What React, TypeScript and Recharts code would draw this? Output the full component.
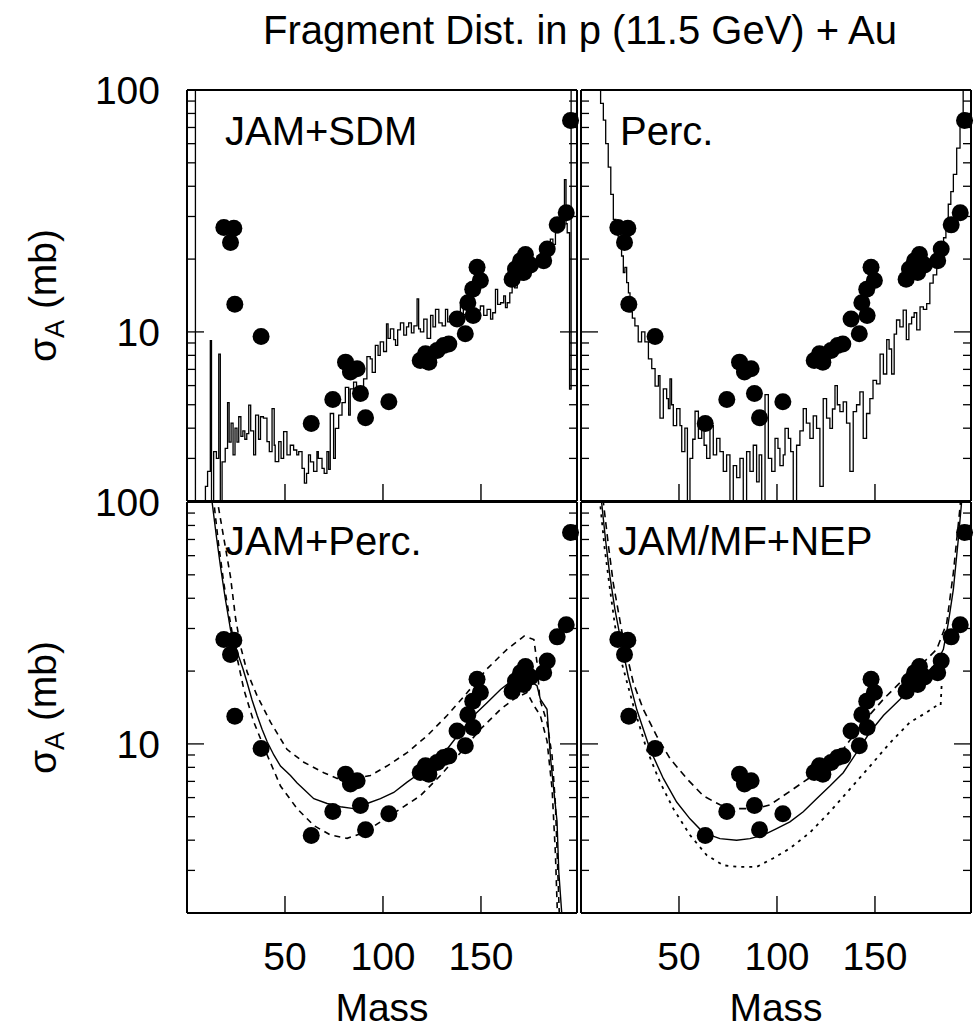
import React from 'react';
import { ComposedChart, Line, Scatter, XAxis, YAxis, Label } from 'recharts';

const FONT = '"Liberation Sans", Arial, Helvetica, sans-serif';

// measured fragment cross sections (same points in all four panels)
const expMass = [
  18.8, 23.9, 22.2, 24.4, 37.8, 63.4, 74.4, 80.9, 83.4, 86.8, 88.5, 91.1, 103,
  119, 123.4, 121.7, 127.6, 131, 133.6, 137.8, 142, 143.3, 145.8, 146, 149.7, 148,
  165.9, 167.6, 170.2, 172.7, 171.8, 175.3, 182, 183.8, 188.9, 193.5, 195.7,
];
const expSigma = [
  27.0, 26.8, 23.4, 13.0, 9.57, 4.18, 5.26, 7.5, 6.83, 7.05, 5.56, 4.42, 5.14,
  7.62, 7.5, 8.12, 8.38, 8.79, 8.92, 11.3, 9.82, 13.2, 15.0, 11.7, 16.3, 18.5,
  16.5, 18.2, 19.7, 20.9, 17.6, 18.9, 19.7, 22.0, 27.7, 31.1, 74.8,
];

const massTicks = [50, 100, 150];
const sigmaTicks = [2, 3, 4, 5, 6, 7, 8, 9, 10, 20, 30, 40, 50, 60, 70, 80, 90, 100];
const sigmaLabels = [10, 100];

// JAM+SDM histogram [mass, sigma]
const sdmHist: [number, number][] = [
  [2, 500], [4.3, 1], [9.4, 2.3], [10.5, 2.65], [11.9, 9.2], [12.5, 1], [13.6, 3.2], [15, 3.0],
  [16.2, 8.1], [17, 1], [17.9, 2.9], [19.5, 3.3], [20.7, 5.1], [21.5, 3.5], [22.5, 4.2], [23.5, 3.1],
  [24.5, 4.0], [25.5, 3.5], [26.4, 4.46], [27.5, 3.7], [28.5, 3.9], [29.5, 3.6], [30.5, 3.8],
  [31.5, 4.98], [32.5, 3.9], [34, 3.1], [35, 4.53], [36.5, 3.6], [37.5, 4.46], [39, 4.4],
  [40.8, 3.52], [42, 3.2], [43.4, 4.82], [44.5, 3.4], [45, 2.91], [46.8, 3.52], [48, 3.0],
  [49.3, 3.87], [51, 3.1], [52.7, 3.4], [54.4, 3.25], [56, 3.1], [57, 3.2], [58.7, 2.73],
  [59.9, 2.37], [61, 2.6], [62, 3.1], [63, 2.9], [64.6, 2.65], [66.3, 3.2], [67, 3.0], [68.9, 2.73],
  [70, 2.6], [71.4, 3.2], [72.3, 2.7], [73.1, 4.6], [74.8, 3.0], [75.7, 3.99], [77.4, 4.53],
  [79.1, 5.1], [80.8, 5.9], [82.5, 4.53], [83.3, 5.82], [85, 6.2], [86.5, 5.6], [88.4, 5.82],
  [90.1, 6.4], [91.8, 7.9], [93.5, 7.74], [94.5, 6.8], [96.1, 8.8], [97.5, 8.0], [98.6, 9.1],
  [100.3, 8.3], [101.8, 10.8], [102.6, 9.4], [103.8, 10.3], [105.5, 9.3], [106.4, 8.8],
  [107.5, 10.2], [108.9, 10.9], [110.6, 9.7], [112, 10.5], [113.1, 10.9], [114.5, 9.9],
  [115.8, 10.6], [117.4, 13.7], [118.2, 10.3], [119.1, 10.0], [120.8, 11.3], [122.5, 9.4],
  [124.3, 11.7], [125.5, 10.5], [126.8, 12.4], [128.5, 10.9], [130.2, 10.6], [131.9, 12.4],
  [133, 11.0], [134.4, 11.3], [135.5, 12.0], [137, 11.7], [138.3, 10.9], [139.5, 12.8],
  [141, 11.8], [142.9, 12.4], [144.5, 11.2], [146.3, 11.7], [148, 12.3], [149.7, 12.8],
  [151.4, 11.7], [153.1, 12.4], [154.9, 11.3], [156, 12.0], [157.4, 15.0], [158.5, 13.0],
  [160, 13.2], [161.6, 14.1], [162.5, 12.6], [163.4, 13.2], [164.7, 14.5], [165.9, 16.0],
  [167.2, 15.2], [168.5, 17.1], [170.2, 16.4], [171.9, 17.9], [173.5, 17.5], [175.3, 19.3],
  [177, 18.6], [178.7, 20.6], [180.4, 20.0], [182.1, 22.0], [183.8, 21.5], [185.4, 24.2],
  [186.7, 23.0], [188, 25.7], [189.7, 26.5], [190.6, 29.2], [191.6, 27], [192.6, 42.6],
  [193.4, 28], [194, 25.7], [195.2, 5.8], [196, 300], [198, 300],
];

// Percolation histogram [mass, sigma]
const percHist: [number, number][] = [
  [7, 300], [8.8, 105], [10, 88], [11.4, 75], [12.6, 60], [13.9, 48], [15.2, 37], [16.5, 29.2],
  [17.8, 26], [19, 23.4], [20.7, 20.6], [21.6, 17.6], [22.4, 18.5], [23.3, 16], [24.2, 14.5],
  [25, 12.1], [26.2, 11.4], [27.5, 10.6], [29.2, 9.1], [30.9, 10.0], [32.6, 9.1], [34.4, 7.74],
  [36.1, 7.05], [37.8, 5.97], [39.5, 6.6], [40.3, 4.4], [42, 5.82], [43.7, 5.3], [44.6, 4.82],
  [45.4, 6.4], [46.2, 5.0], [47.1, 4.1], [48.8, 4.82], [50.5, 4.1], [51.4, 3.2], [53, 4.0],
  [54.3, 1], [55.6, 3.0], [57, 3.6], [58.2, 4.7], [59.9, 3.63], [61.6, 4.1], [62.8, 3.4],
  [64.1, 3.0], [65.8, 4.1], [67.5, 3.1], [69.2, 3.63], [70.9, 3.2], [72.6, 2.65], [74.3, 3.1],
  [76, 1], [77.7, 2.8], [79.4, 2.5], [81.1, 3.0], [82.8, 1], [84.5, 3.2], [86.2, 2.65],
  [87.9, 3.4], [89.6, 2.4], [90.9, 3.1], [92.2, 1], [93.9, 5.5], [95.6, 3.0], [97.3, 2.65],
  [99, 3.63], [100.5, 3.3], [101.5, 2.8], [103.2, 3.1], [104.1, 3.99], [105.8, 3.63], [107, 3.2],
  [108.3, 1], [110, 3.4], [111.7, 3.9], [113.4, 4.82], [115, 4.2], [116.8, 3.63], [118.5, 4.5],
  [120.2, 3.99], [121.9, 2.3], [123.6, 5.3], [125.3, 4.4], [127, 3.99], [128.3, 4.8], [129.6, 6.0],
  [130.8, 5.0], [132.1, 4.68], [133.8, 5.14], [135.5, 4.2], [137.2, 2.65], [138.9, 4.68],
  [140.6, 5.0], [142.3, 5.65], [144, 3.63], [145.7, 4.6], [147.4, 5.3], [149, 6.3], [150.8, 6.1],
  [152.6, 8.1], [154.3, 6.7], [156, 9.3], [157.2, 8.5], [158.5, 6.7], [159.8, 9.8], [161, 11.2],
  [162.7, 10.5], [164.4, 12.3], [166, 9.3], [167.3, 10.8], [168.7, 11.5], [170, 12.0],
  [171.3, 10.2], [173, 12.7], [174.7, 12.4], [176.4, 13.1], [178, 15.9], [179.7, 17.2],
  [181.5, 19.2], [183.2, 21.5], [185, 24.5], [186.2, 28], [187.4, 33.7], [188.7, 38], [190, 44.8],
  [191.7, 57.5], [193.4, 74], [195, 120], [198, 120],
];

// JAM+Perc. : central, upper and lower curves
const jpSolid: [number, number][] = [
  [11.5, 130], [12.8, 100], [15, 72], [17.1, 54], [19.5, 40], [22.2, 29.7], [24.3, 26], [26.4, 23],
  [28.5, 20.5], [30.7, 17.9], [33.2, 15.2], [35.8, 13.1], [38.3, 11.5], [40.9, 10.2], [44.3, 9.0],
  [47.7, 8.1], [52.8, 7.4], [56.2, 6.9], [59.6, 6.5], [64.7, 5.94], [71.5, 5.67], [78.3, 5.5],
  [85.1, 5.4], [91.9, 5.67], [98.7, 5.94], [105.5, 6.3], [112.3, 6.95], [119.1, 7.6], [125.9, 8.5],
  [132.7, 9.5], [139.5, 11.2], [146.3, 13.1], [153.1, 14.8], [160, 16.8], [166.7, 18.5],
  [173.5, 18.5], [178.6, 17.4], [180.3, 15.3], [183.7, 13.9], [185.4, 8.9], [187.1, 6.5],
  [188.8, 4.8], [189.7, 2.97], [191.4, 1.9], [192, 1.0],
];
const jpHigh: [number, number][] = [
  [14, 130], [15.6, 100], [18.9, 70], [22.2, 49], [24.8, 33], [27.3, 25.4], [30.7, 19.8],
  [35.8, 15.8], [42.6, 12.3], [51, 9.5], [59.6, 8.4], [69.8, 7.6], [76.6, 7.2], [85, 7.2],
  [93.6, 7.4], [102, 8.1], [112.3, 9.2], [122.5, 10.8], [132.7, 13.1], [143, 16.3], [153, 20.4],
  [163.3, 24.6], [172, 27.9], [177, 27], [178.6, 21.7], [180, 15.3], [183.7, 12.3], [186.3, 8.9],
  [188, 5.6], [190.5, 1.5],
];
const jpLow: [number, number][] = [
  [12.5, 130], [13.7, 100], [16, 68], [18.8, 46], [21.5, 34], [23.9, 26.3], [29, 16.8],
  [34.1, 12.3], [40.9, 9.0], [47.7, 6.7], [56.2, 5.4], [64.7, 4.6], [73.2, 4.2], [81.7, 4.07],
  [90.2, 4.3], [98.7, 4.76], [109, 5.4], [119, 6.1], [129.3, 7.4], [139.5, 9.2], [149.7, 11.5],
  [160, 13.9], [166.7, 15.3], [173.5, 16.3], [177, 14.4], [180.3, 13.1], [183.7, 10.3],
  [186.3, 6.5], [188, 3.5], [189.5, 1.5],
];

// JAM/MF+NEP : central, upper and lower curves
const nepSolid: [number, number][] = [
  [9.5, 130], [10.5, 100], [12.5, 70], [14.8, 49], [17.3, 36], [19.9, 27.9], [24.1, 19],
  [28.4, 13.9], [35.2, 9.5], [42, 7.2], [48.8, 5.75], [55.6, 4.9], [62.4, 4.3], [70.9, 4.06],
  [79.4, 4.0], [86.2, 4.06], [93, 4.2], [99.8, 4.47], [106.6, 4.76], [113.4, 5.24], [120.2, 5.94],
  [127, 6.7], [133.8, 7.6], [140.6, 9.2], [147.5, 11.2], [154.3, 13.1], [161, 14.8], [167.9, 16.8],
  [174.7, 19], [181.5, 21.7], [184.9, 24.6], [187.4, 31.6], [190, 43.5], [192.5, 69.8],
  [194.2, 100], [195, 130],
];
const nepHigh: [number, number][] = [
  [10.3, 130], [11.4, 100], [14, 66], [16.5, 46], [21.6, 27], [26.7, 17.9], [31.8, 13.9],
  [38.6, 10.8], [45.4, 8.7], [53.9, 7.2], [62.4, 6.1], [70.9, 5.6], [79.4, 5.4], [89.6, 5.4],
  [96.4, 5.6], [103.2, 6.1], [113.4, 6.95], [123.6, 7.9], [133.8, 9.5], [144, 12.3], [154.3, 15.3],
  [164.5, 18.5], [174.7, 21.7], [181.5, 24.6], [186.6, 31.6], [190, 51], [193.4, 95], [194.5, 130],
];
const nepLow: [number, number][] = [
  [8.7, 130], [9.7, 100], [12, 65], [14.8, 43.5], [17.3, 31], [19.9, 23], [26.7, 14.4],
  [33.5, 9.5], [40.3, 6.95], [47.1, 5.4], [55.6, 4.2], [64.1, 3.47], [72.6, 3.15], [81.1, 3.1],
  [89.6, 3.1], [98.1, 3.37], [106.6, 3.7], [116.8, 4.3], [127, 5.24], [137.2, 6.5], [147.5, 8.1],
  [157.7, 10.1], [167.9, 12.3], [176.4, 13.5], [181.5, 14.4], [183.5, 14.4], [184, 17.4],
];

const toRows = (pts: [number, number][]) => pts.map(([m, s]) => ({ m, s }));
const expRows = expMass.map((m, i) => ({ m, s: expSigma[i] }));

type Curve = { pts: [number, number][]; type: 'stepAfter' | 'linear'; dash?: string; width: number };

const frame = { stroke: '#000', strokeWidth: 2 };

// axes are 1px thick (recharts skips 0-sized axes); ticks are drawn inward by hand
const bottomTick = (labels: boolean) => (props: any) => {
  const { x, y, payload } = props;
  return (
    <g>
      <line x1={x} x2={x} y1={y} y2={y - 17} stroke="#000" strokeWidth={1.4} />
      {labels && (
        <text x={x} y={y + 57} textAnchor="middle" fontSize={39} fontFamily={FONT} fill="#000">
          {payload.value}
        </text>
      )}
    </g>
  );
};

const topTick = (props: any) => {
  const { x, y } = props;
  return <line x1={x} x2={x} y1={y} y2={y + 17} stroke="#000" strokeWidth={1.4} />;
};

const leftTick = (labels: boolean) => (props: any) => {
  const { x, y, payload } = props;
  const major = sigmaLabels.includes(payload.value);
  return (
    <g>
      <line x1={x} x2={x + (major ? 17 : 8)} y1={y} y2={y} stroke="#000" strokeWidth={1.3} />
      {labels && major && (
        <text x={x - 27} y={y + 14} textAnchor="end" fontSize={39} fontFamily={FONT} fill="#000">
          {payload.value}
        </text>
      )}
    </g>
  );
};

const rightTick = (props: any) => {
  const { x, y, payload } = props;
  const major = sigmaLabels.includes(payload.value);
  return <line x1={x} x2={x - (major ? 17 : 8)} y1={y} y2={y} stroke="#000" strokeWidth={1.3} />;
};

const massTitle = (props: any) => {
  const { x, y, width } = props.viewBox;
  return (
    <text x={x + width / 2} y={y + 108} textAnchor="middle" fontSize={39} fontFamily={FONT} fill="#000">
      Mass
    </text>
  );
};

const sigmaTitle = (props: any) => {
  const { x, y, width, height } = props.viewBox;
  const cx = x + width - 131;
  const cy = y + height / 2;
  return (
    <text
      x={cx}
      y={cy}
      transform={`rotate(-90 ${cx} ${cy})`}
      textAnchor="middle"
      fontSize={39}
      fontFamily={FONT}
      fill="#000"
    >
      σ
      <tspan fontSize={27} dy={8}>A</tspan>
      <tspan dy={-8}> (mb)</tspan>
    </text>
  );
};

const dot = (p: any) => <circle cx={p.cx} cy={p.cy} r={8.5} fill="#000" />;

interface PanelProps {
  left: number;
  top: number;
  width: number;
  height: number;
  margin: { top: number; right: number; bottom: number; left: number };
  curves: Curve[];
  showX: boolean;
  showY: boolean;
}

function Panel({ left, top, width, height, margin, curves, showX, showY }: PanelProps) {
  return (
    <div style={{ position: 'absolute', left, top }}>
      <ComposedChart width={width} height={height} margin={margin}>
        <XAxis
          xAxisId="b"
          type="number"
          dataKey="m"
          domain={[0, 199]}
          ticks={massTicks}
          interval={0}
          orientation="bottom"
          height={1}
          tickSize={0}
          tickMargin={0}
          tickLine={false}
          axisLine={frame}
          tick={bottomTick(showX)}
        >
          {showX && <Label content={massTitle} />}
        </XAxis>
        <XAxis
          xAxisId="t"
          type="number"
          dataKey="m"
          domain={[0, 199]}
          ticks={massTicks}
          interval={0}
          orientation="top"
          height={1}
          tickSize={0}
          tickMargin={0}
          tickLine={false}
          axisLine={frame}
          tick={topTick}
        />
        <YAxis
          yAxisId="l"
          type="number"
          dataKey="s"
          scale="log"
          domain={[2, 100]}
          allowDataOverflow
          ticks={sigmaTicks}
          interval={0}
          orientation="left"
          width={1}
          tickSize={0}
          tickMargin={0}
          tickLine={false}
          axisLine={frame}
          tick={leftTick(showY)}
        >
          {showY && <Label content={sigmaTitle} />}
        </YAxis>
        <YAxis
          yAxisId="r"
          type="number"
          dataKey="s"
          scale="log"
          domain={[2, 100]}
          ticks={sigmaTicks}
          interval={0}
          orientation="right"
          width={1}
          tickSize={0}
          tickMargin={0}
          tickLine={false}
          axisLine={frame}
          tick={rightTick}
        />
        {curves.map((c, i) => (
          <Line
            key={i}
            data={toRows(c.pts)}
            dataKey="s"
            xAxisId="b"
            yAxisId="l"
            type={c.type}
            stroke="#000"
            strokeWidth={c.width}
            strokeDasharray={c.dash}
            dot={false}
            activeDot={false}
            isAnimationActive={false}
          />
        ))}
        <Scatter data={expRows} dataKey="s" xAxisId="b" yAxisId="r" shape={dot} isAnimationActive={false} />
      </ComposedChart>
    </div>
  );
}

const panelText = { fontSize: 40, fontFamily: FONT, fill: '#000' };

export default function App() {
  const topM = { top: 89, bottom: 18 };
  const botM = { top: 21, bottom: 118 };
  return (
    <div style={{ position: 'absolute', left: 0, top: 0, width: 977, height: 1032, background: '#fff' }}>
      <Panel
        left={0}
        top={0}
        width={600}
        height={520}
        margin={{ ...topM, left: 186, right: 22 }}
        curves={[{ pts: sdmHist, type: 'stepAfter', width: 1.3 }]}
        showX={false}
        showY
      />
      <Panel
        left={560}
        top={0}
        width={417}
        height={520}
        margin={{ ...topM, left: 20, right: 5 }}
        curves={[{ pts: percHist, type: 'stepAfter', width: 1.3 }]}
        showX={false}
        showY={false}
      />
      <Panel
        left={0}
        top={480}
        width={600}
        height={552}
        margin={{ ...botM, left: 186, right: 22 }}
        curves={[
          { pts: jpSolid, type: 'linear', width: 1.4 },
          { pts: jpHigh, type: 'linear', width: 1.6, dash: '6 5' },
          { pts: jpLow, type: 'linear', width: 1.6, dash: '6 5' },
        ]}
        showX
        showY
      />
      <Panel
        left={560}
        top={480}
        width={417}
        height={552}
        margin={{ ...botM, left: 20, right: 5 }}
        curves={[
          { pts: nepSolid, type: 'linear', width: 1.4 },
          { pts: nepHigh, type: 'linear', width: 1.6, dash: '7 5' },
          { pts: nepLow, type: 'linear', width: 1.8, dash: '3 5' },
        ]}
        showX
        showY={false}
      />
      <svg
        width={977}
        height={1032}
        style={{ position: 'absolute', left: 0, top: 0, pointerEvents: 'none' }}
      >
        <text x={580} y={44} textAnchor="middle" {...panelText}>
          Fragment Dist. in p (11.5 GeV) + Au
        </text>
        <text x={225} y={145} {...panelText}>JAM+SDM</text>
        <text x={620} y={145} {...panelText}>Perc.</text>
        <text x={225} y={555} {...panelText}>JAM+Perc.</text>
        <text x={618} y={555} {...panelText}>JAM/MF+NEP</text>
      </svg>
    </div>
  );
}
